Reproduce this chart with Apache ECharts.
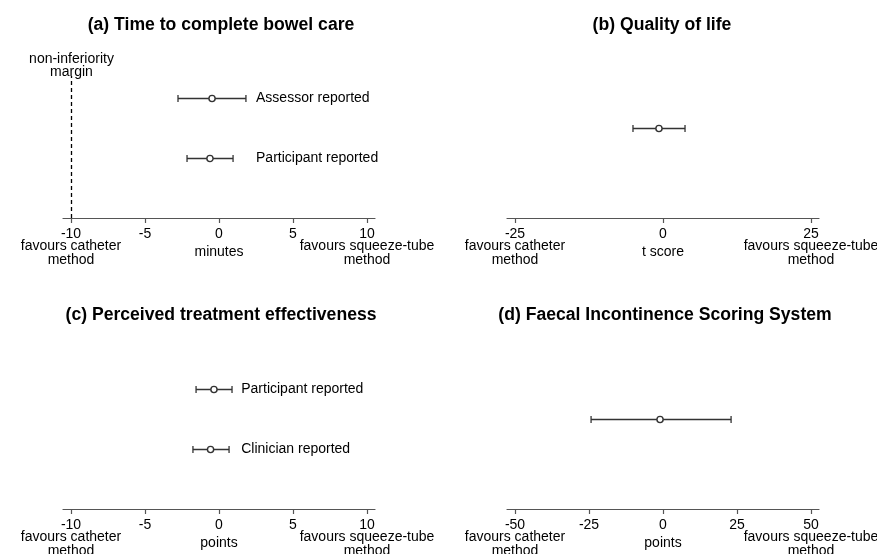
<!DOCTYPE html>
<html>
<head>
<meta charset="utf-8">
<script src="https://cdn.jsdelivr.net/npm/echarts@6/dist/echarts.min.js"></script>
<style>
html,body{margin:0;padding:0;background:#fff;}
#chart{width:877px;height:554px;}
</style>
</head>
<body>
<div id="chart"></div>
<script>
// ---- data ----
const titles = ['(a) Time to complete bowel care', '(b) Quality of life', '(c) Perceived treatment effectiveness', '(d) Faecal Incontinence Scoring System'];
const axisNames = ['minutes', 't score', 'points', 'points'];
const ticksA = [-10, -5, 0, 5, 10];
const ticksB = [-25, 0, 25];
const ticksC = [-10, -5, 0, 5, 10];
const ticksD = [-50, -25, 0, 25, 50];
const leftEndLabel = ['favours catheter', 'method'];
const rightEndLabel = ['favours squeeze-tube', 'method'];

const aLabels = ['Assessor reported', 'Participant reported'];
const aEst = [-0.47, -0.61];
const aLo = [-2.77, -2.16];
const aHi = [1.82, 0.95];
const aMargin = -10;
const aMarginLabel = 'non-inferiority\nmargin';

const bLabels = [''];
const bEst = [-0.68];
const bLo = [-5.07];
const bHi = [3.72];

const cLabels = ['Participant reported', 'Clinician reported'];
const cEst = [-0.34, -0.57];
const cLo = [-1.55, -1.76];
const cHi = [0.88, 0.68];

const dLabels = [''];
const dEst = [-1.0];
const dLo = [-24.3];
const dHi = [23.0];

// ---- layout / style ----
const FONT = '"Liberation Sans", Arial, Helvetica, sans-serif';
const INK = '#333';
const AXIS = '#555';
const FS = 14;

const panels = [
  {ticks: ticksA, labels: aLabels, est: aEst, lo: aLo, hi: aHi, labelX: 2.5, grid: {left: 63, top: 38}, title: [221, 25]},
  {ticks: ticksB, labels: bLabels, est: bEst, lo: bLo, hi: bHi, labelX: 0, grid: {left: 507, top: 38}, title: [662, 25]},
  {ticks: ticksC, labels: cLabels, est: cEst, lo: cLo, hi: cHi, labelX: 1.5, grid: {left: 63, top: 329}, title: [221, 315]},
  {ticks: ticksD, labels: dLabels, est: dEst, lo: dLo, hi: dHi, labelX: 0, grid: {left: 507, top: 329}, title: [665, 315]}
];

const grids = [], xAxes = [], yAxes = [], series = [], graphics = [];

panels.forEach((p, i) => {
  const tMax = p.ticks[p.ticks.length - 1];
  const ext = tMax * 1.054;
  grids.push({left: p.grid.left, top: p.grid.top, width: 312, height: 180, containLabel: false, outerBoundsMode: 'none'});
  const first = p.ticks[0], last = tMax;
  // main axis: line, ticks, numeric labels, name
  xAxes.push({
    gridIndex: i, type: 'value', min: -ext, max: ext, position: 'bottom',
    axisLine: {show: true, onZero: false, lineStyle: {color: AXIS, width: 1.2}},
    axisTick: {show: true, customValues: p.ticks, length: 5, lineStyle: {color: AXIS, width: 1.2}},
    splitLine: {show: false},
    axisLabel: {
      customValues: p.ticks, margin: 9, showMinLabel: true, showMaxLabel: true, hideOverlap: false,
      color: '#000', fontFamily: FONT, fontSize: FS, lineHeight: 14
    },
    name: axisNames[i], nameLocation: 'middle', nameGap: 27, nameMoveOverlap: false,
    nameTextStyle: {color: '#000', fontFamily: FONT, fontSize: FS}
  });
  // overlay axis: end descriptions ("favours ...")
  xAxes.push({
    gridIndex: i, type: 'value', min: -ext, max: ext, position: 'bottom', offset: 0,
    axisLine: {show: false}, axisTick: {show: false}, splitLine: {show: false},
    axisLabel: {
      customValues: [first, last], margin: 21, showMinLabel: true, showMaxLabel: true, hideOverlap: false,
      color: '#000', fontFamily: FONT, fontSize: FS, lineHeight: 14,
      formatter: function (v) {
        return v === first ? leftEndLabel.join('\n') : rightEndLabel.join('\n');
      }
    }
  });
  yAxes.push({gridIndex: i, type: 'value', min: 0, max: 3, show: false});

  const n = p.est.length;
  const data = p.est.map((e, k) => ({
    name: p.labels[k],
    value: [e, p.lo[k], p.hi[k], n === 1 ? 1.5 : n - k, p.labelX]
  }));
  const labels = p.labels;
  series.push({
    type: 'custom', xAxisIndex: 2 * i, yAxisIndex: i, data: data,
    encode: {x: [0, 1, 2], y: 3},
    renderItem: function (params, api) {
      const y = api.value(3);
      const pE = api.coord([api.value(0), y]);
      const pL = api.coord([api.value(1), y]);
      const pH = api.coord([api.value(2), y]);
      const pT = api.coord([api.value(4), y]);
      const yy = Math.round(pE[1]) + 0.5;
      const children = [
        {type: 'line', shape: {x1: pL[0], y1: yy, x2: pH[0], y2: yy}, style: {stroke: INK, lineWidth: 1.4}},
        {type: 'line', shape: {x1: pL[0], y1: yy - 3.5, x2: pL[0], y2: yy + 3.5}, style: {stroke: INK, lineWidth: 1.3}},
        {type: 'line', shape: {x1: pH[0], y1: yy - 3.5, x2: pH[0], y2: yy + 3.5}, style: {stroke: INK, lineWidth: 1.3}},
        {type: 'circle', shape: {cx: pE[0], cy: yy, r: 3.1}, style: {fill: '#fff', stroke: INK, lineWidth: 1.4}}
      ];
      const txt = labels[params.dataIndex];
      if (txt) {
        children.push({type: 'text', style: {text: txt, x: pT[0], y: yy, verticalAlign: 'middle', align: 'left', fontSize: FS, fontFamily: FONT, fill: '#000'}});
      }
      return {type: 'group', children: children};
    }
  });

  graphics.push({type: 'text', x: p.title[0], y: p.title[1], style: {text: titles[i], align: 'center', verticalAlign: 'middle', fontSize: 17.6, fontWeight: 'bold', fontFamily: FONT, fill: '#000'}});
});

// non-inferiority margin line in panel (a)
series.push({
  type: 'custom', xAxisIndex: 0, yAxisIndex: 0, data: [[aMargin, 0]],
  renderItem: function (params, api) {
    const p0 = api.coord([api.value(0), api.value(1)]);
    const x = Math.round(p0[0]) + 0.5;
    const topY = p0[1] - 142;
    return {type: 'group', children: [
      {type: 'line', shape: {x1: x, y1: p0[1], x2: x, y2: topY}, style: {stroke: '#000', lineWidth: 1.3, lineDash: [4, 3]}},
      {type: 'text', style: {text: aMarginLabel, x: x, y: topY + 3, align: 'center', verticalAlign: 'bottom', fontSize: FS, lineHeight: 13, fontFamily: FONT, fill: '#000'}}
    ]};
  }
});

const chart = echarts.init(document.getElementById('chart'), null, {renderer: 'canvas'});
chart.setOption({
  backgroundColor: '#fff',
  animation: false,
  grid: grids,
  xAxis: xAxes,
  yAxis: yAxes,
  series: series,
  graphic: graphics
});
</script>
</body>
</html>
